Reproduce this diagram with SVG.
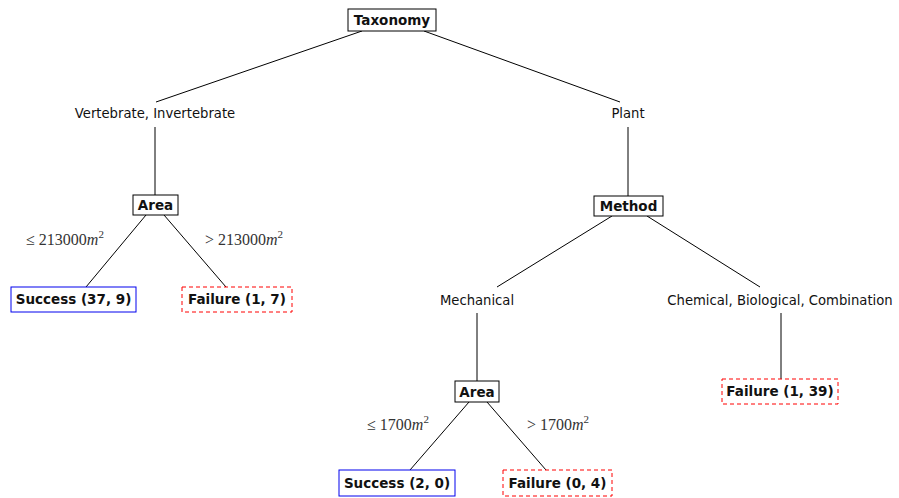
<svg xmlns="http://www.w3.org/2000/svg" width="899" height="498" viewBox="0 0 899 498">
<style>
.bx{fill:#fff;stroke:#000;stroke-width:1}
.ok{fill:#fff;stroke:#0000ee;stroke-width:1}
.fail{fill:#fff;stroke:#ff0000;stroke-width:1;stroke-dasharray:4,3}
.b{font-family:"DejaVu Sans","Liberation Sans",sans-serif;font-weight:bold;font-size:13.5px;text-anchor:middle;fill:#111}
.t{font-family:"DejaVu Sans","Liberation Sans",sans-serif;font-size:13.2px;text-anchor:middle;fill:#111}
.m{font-family:"Liberation Serif","DejaVu Serif",serif;font-size:16px;text-anchor:middle;fill:#333}
.c line{stroke:#000;stroke-width:1}
</style>
<rect width="899" height="498" fill="#fff"/>
<g class="c" id="connectors">
<line x1="362" y1="31" x2="156" y2="102"/>
<line x1="424" y1="31" x2="620" y2="102"/>
<line x1="155" y1="127" x2="155" y2="195"/>
<line x1="628" y1="127" x2="628" y2="196"/>
<line x1="146" y1="215" x2="86" y2="287"/>
<line x1="164" y1="215" x2="226" y2="287"/>
<line x1="612" y1="216" x2="497" y2="287"/>
<line x1="647" y1="216" x2="760" y2="287"/>
<line x1="477" y1="313" x2="477" y2="381"/>
<line x1="781" y1="313" x2="781" y2="379"/>
<line x1="469" y1="402" x2="410" y2="470"/>
<line x1="487" y1="402" x2="546" y2="470"/>
</g>
<g id="taxonomy"><rect class="bx" x="348" y="9" width="88" height="22"/><text class="b" x="392" y="25">Taxonomy</text></g>
<g id="vertebrate"><text class="t" x="155" y="118">Vertebrate, Invertebrate</text></g>
<g id="plant"><text class="t" x="628" y="118">Plant</text></g>
<g id="area1"><rect class="bx" x="133" y="195" width="45" height="20"/><text class="b" x="155.5" y="210">Area</text></g>
<g id="method"><rect class="bx" x="594" y="196" width="69" height="20"/><text class="b" x="628.5" y="211">Method</text></g>
<g id="lbl1"><text class="m" x="65" y="245">≤ 213000<tspan font-style="italic">m</tspan><tspan font-size="11" dy="-7">2</tspan></text></g>
<g id="lbl2"><text class="m" x="244" y="245">&gt; 213000<tspan font-style="italic">m</tspan><tspan font-size="11" dy="-7">2</tspan></text></g>
<g id="success1"><rect class="ok" x="11" y="287" width="125" height="25"/><text class="b" x="73.5" y="304">Success (37, 9)</text></g>
<g id="failure1"><rect class="fail" x="182" y="287" width="110" height="25"/><text class="b" x="237" y="304">Failure (1, 7)</text></g>
<g id="mechanical"><text class="t" x="477" y="305">Mechanical</text></g>
<g id="chemical"><text class="t" x="780" y="305">Chemical, Biological, Combination</text></g>
<g id="area2"><rect class="bx" x="455" y="381" width="44" height="21"/><text class="b" x="477" y="396.5">Area</text></g>
<g id="lbl3"><text class="m" x="398" y="430">≤ 1700<tspan font-style="italic">m</tspan><tspan font-size="11" dy="-7">2</tspan></text></g>
<g id="lbl4"><text class="m" x="558" y="430">&gt; 1700<tspan font-style="italic">m</tspan><tspan font-size="11" dy="-7">2</tspan></text></g>
<g id="failure3"><rect class="fail" x="722" y="379" width="116" height="25"/><text class="b" x="780" y="396">Failure (1, 39)</text></g>
<g id="success2"><rect class="ok" x="339" y="470" width="116" height="26"/><text class="b" x="397" y="488">Success (2, 0)</text></g>
<g id="failure2"><rect class="fail" x="503" y="470" width="109" height="26"/><text class="b" x="557.5" y="488">Failure (0, 4)</text></g>
</svg>
